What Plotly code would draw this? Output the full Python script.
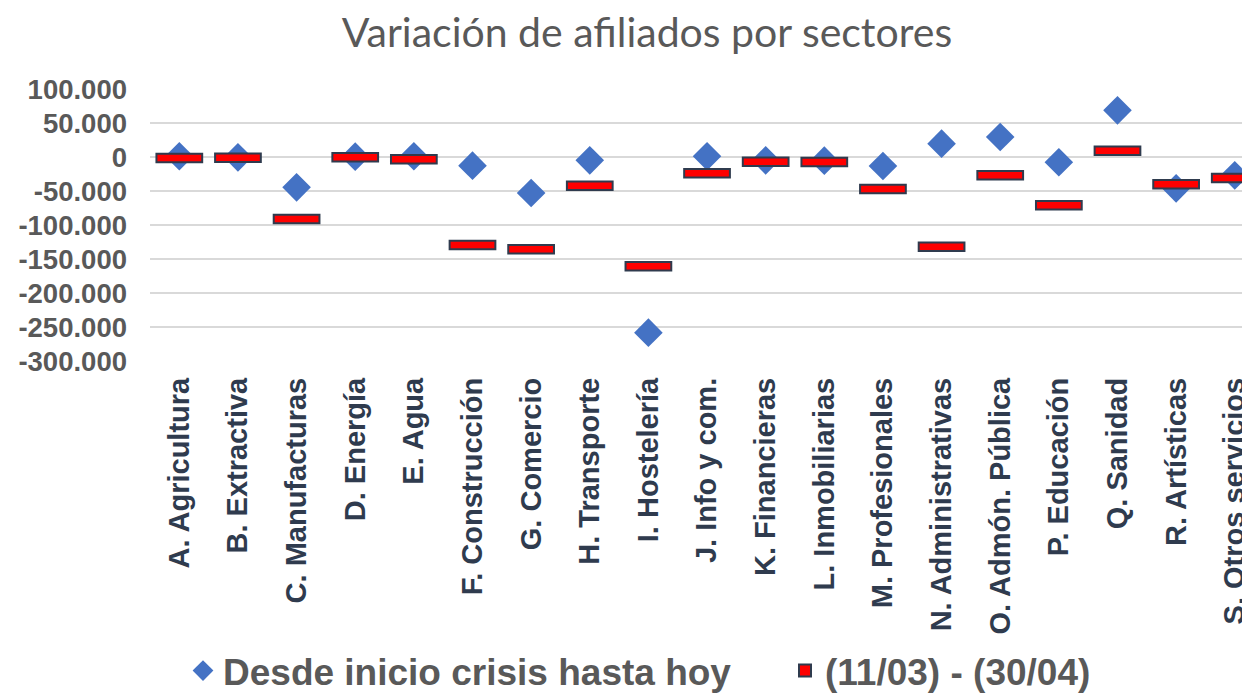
import plotly.graph_objects as go

categories = ["A. Agricultura", "B. Extractiva", "C. Manufacturas", "D. Energía", "E. Agua",
              "F. Construcción", "G. Comercio", "H. Transporte", "I. Hostelería", "J. Info y com.",
              "K. Financieras", "L. Inmobiliarias", "M. Profesionales", "N. Administrativas",
              "O. Admón. Pública", "P. Educación", "Q. Sanidad", "R. Artísticas", "S. Otros servicios"]

desde_inicio = [1000, -500, -44600, 500, 1000, -12700, -52900, -4900, -258300, 1000,
                -4900, -5400, -13200, 19600, 29400, -7800, 68600, -46100, -27000]

periodo = [-1500, -1000, -91200, -500, -3400, -129400, -135800, -42200, -160800, -24000,
           -6900, -7400, -47000, -131900, -27000, -71100, 9300, -40200, -30900]

tick_vals = [100000, 50000, 0, -50000, -100000, -150000, -200000, -250000, -300000]
tick_text = ["100.000", "50.000", "0", "-50.000", "-100.000", "-150.000", "-200.000", "-250.000", "-300.000"]

name_desde = "Desde inicio crisis hasta hoy"
name_periodo = "(11/03) - (30/04)"

BAR_H = 12500  # visual thickness of the dash marks (data units)
Y_RANGE = [-300000, 100000]

# the page body has an 8px default margin, so the figure is 8px smaller
W, H = 1242, 687

fig = go.Figure()
fig.add_trace(go.Scatter(
    x=categories, y=desde_inicio, mode="markers", name=name_desde, legend="legend",
    marker=dict(symbol="diamond", size=22, color="#4472C4", line=dict(width=0)),
))
fig.add_trace(go.Bar(
    x=categories, y=[BAR_H] * len(periodo), base=[v - BAR_H / 2 for v in periodo],
    width=0.78, name=name_periodo, yaxis="y2", legend="legend2",
    marker=dict(color="#FF0000", line=dict(color="#2F3B4E", width=2)),
))

legend_font = dict(family="Liberation Sans", size=37, color="#595959", weight="bold")

fig.update_layout(
    width=W, height=H,
    paper_bgcolor="white", plot_bgcolor="white",
    margin=dict(l=142, r=0, t=81, b=334),
    title=dict(text="Variación de afiliados por sectores", x=639 / W, xanchor="center",
               y=1 - 25 / H, yanchor="middle",
               font=dict(family="Lato", size=41, color="#595959")),
    xaxis=dict(range=[-0.5, 18.26], tickangle=-90, showgrid=False, showline=False,
               ticks="", ticklabelstandoff=10,
               tickfont=dict(family="Liberation Sans", size=29, color="#2F3B4E", weight="bold"),
               automargin=False),
    yaxis=dict(range=Y_RANGE, tickvals=tick_vals, ticktext=tick_text, showgrid=True,
               gridcolor="#D9D9D9", gridwidth=1.5, zeroline=False, showline=False,
               ticks="", ticklabelstandoff=22,
               tickfont=dict(family="Liberation Sans", size=27.5, color="#595959", weight="bold"),
               automargin=False),
    yaxis2=dict(range=Y_RANGE, overlaying="y", visible=False, showgrid=False, zeroline=False),
    legend=dict(orientation="h", xref="container", x=175 / W, xanchor="left",
                yref="container", y=1 - 663 / H, yanchor="middle",
                font=legend_font, itemwidth=30),
    legend2=dict(orientation="h", xref="container", x=777 / W, xanchor="left",
                 yref="container", y=1 - 663 / H, yanchor="middle",
                 font=legend_font, itemwidth=30),
    showlegend=True,
    font=dict(family="Liberation Sans"),
)

fig.write_html("out.html")
